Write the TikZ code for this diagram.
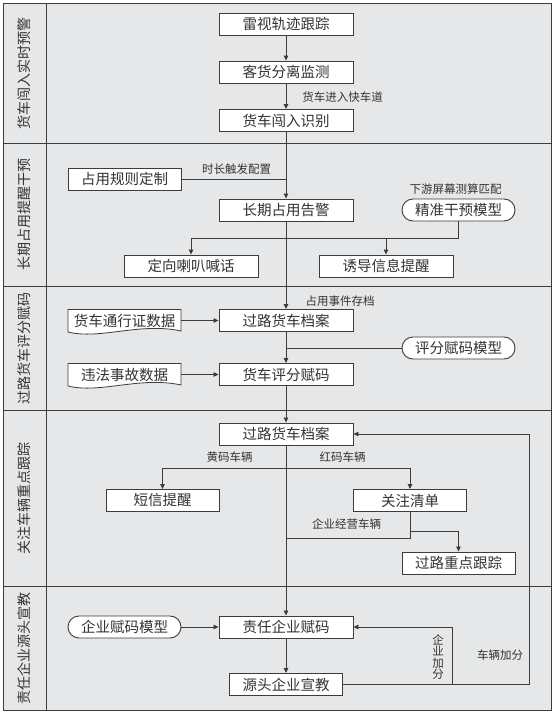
\documentclass[tikz,border=0pt]{standalone}
\usepackage{fontspec}
\newfontfamily\cjk{Noto Sans CJK SC}
\usetikzlibrary{arrows.meta,calc}

\definecolor{lanegray}{HTML}{E6E7E8}
\definecolor{linegray}{HTML}{3C3C3C}
\definecolor{textgray}{HTML}{333333}

% wavy data sheet, drawn round a centre (113 x 22)
\newcommand{\docshape}[1]{%
	\draw[line, fill=white] ($(#1)+(-56.5,-11)$) -- ($(#1)+(56.5,-11)$) -- ($(#1)+(56.5,10.5)$)
		.. controls ($(#1)+(15.5,1.5)$) and ($(#1)+(-24.5,19.5)$) .. ($(#1)+(-56.5,11.5)$) -- cycle;}

\begin{document}
\begin{tikzpicture}[x=1pt, y=-1pt,
	line/.style={draw=linegray, line width=0.8pt},
	arr/.style={-{Triangle[length=5pt,width=4.5pt]}},
	box/.style={draw=linegray, fill=white, line width=0.9pt, minimum width=134pt,
		minimum height=22pt, inner sep=0pt, text=textgray, font=\cjk\fontsize{14.5}{14.5}\selectfont},
	sbox/.style={box, minimum width=113pt},
	model/.style={sbox, rounded corners=11pt},
	doc/.style={sbox, draw=none, fill=none},
	lbl/.style={inner sep=0pt, text=textgray, font=\cjk\fontsize{11.5}{11.5}\selectfont},
	lanetitle/.style={inner sep=0pt, rotate=90, text=textgray, font=\cjk\fontsize{14}{14}\selectfont},
]

% frame %{{{1

	\useasboundingbox (0,0) rectangle (553,712);

	\fill[lanegray] (3,3) rectangle (551,710);
	\draw[line, line width=1pt] (3,3) rectangle (551,710);
	\draw[line, line width=1pt] (46,3) -- (46,710);
	\foreach \y in {143,286,410,586}
		\draw[line, line width=1pt] (3,\y) -- (551,\y);

% lane titles %{{{1

	\node[lanetitle] (lane1) at (24.5,73) {货车闯入实时预警};
	\node[lanetitle] (lane2) at (24.5,214.5) {长期占用提醒干预};
	\node[lanetitle] (lane3) at (24.5,348) {过路货车评分赋码};
	\node[lanetitle] (lane4) at (24.5,498) {关注车辆重点跟踪};
	\node[lanetitle] (lane5) at (24.5,648) {责任企业源头宣教};

% coordinates %{{{1

	\coordinate (permitpos) at (124.5,320.5);
	\coordinate (illegalpos) at (124.5,374.5);

	\coordinate (alarmsplit) at (286,238);
	\coordinate (codesplit) at (286,468);
	\coordinate (entjoin) at (286,538);
	\coordinate (trackbend) at (410,531);
	\coordinate (vehback) at (529,684.5);
	\coordinate (entback) at (452,684.5);

% boxes %{{{1

	\node[box] (radar) at (286,24) {雷视轨迹跟踪};
	\node[box] (sep) at (286,72) {客货分离监测};
	\node[box] (intrude) at (286,120.5) {货车闯入识别};

	\node[sbox] (rule) at (124.5,179) {占用规则定制};
	\node[box] (alarm) at (286,210) {长期占用告警};
	\node[model] (precise) at (458.5,210) {精准干预模型};
	\node[box] (horn) at (191,266) {定向喇叭喊话};
	\node[box] (guide) at (386,266) {诱导信息提醒};

	\docshape{permitpos}
	\docshape{illegalpos}
	\node[doc] (permit) at (permitpos) {货车通行证数据};
	\node[doc] (illegal) at (illegalpos) {违法事故数据};
	\node[box] (archive) at (286,320.5) {过路货车档案};
	\node[model] (scoremodel) at (458.5,348) {评分赋码模型};
	\node[box] (score) at (286,374.5) {货车评分赋码};

	\node[box] (archive2) at (286,434) {过路货车档案};
	\node[sbox] (sms) at (162.5,500.5) {短信提醒};
	\node[sbox] (watch) at (410,500.5) {关注清单};
	\node[sbox] (track) at (458.5,563) {过路重点跟踪};

	\node[model] (entmodel) at (124.5,627) {企业赋码模型};
	\node[box] (duty) at (286,627) {责任企业赋码};
	\node[sbox] (edu) at (286,684.5) {源头企业宣教};

% connectors %{{{1

	\draw[line, arr] (radar) -- (sep);
	\draw[line, arr] (sep) -- (intrude);
	\draw[line, arr] (intrude) -- (alarm);
	\draw[line] (rule) -- (rule -| alarm);

	\draw[line, arr] (alarm) -- (archive);
	\draw[line] (horn |- alarmsplit) -- (precise |- alarmsplit);
	\draw[line] (precise) -- (precise |- alarmsplit);
	\draw[line, arr] (horn |- alarmsplit) -- (horn);
	\draw[line, arr] (guide |- alarmsplit) -- (guide);

	\draw[line, arr] (permit) -- (archive);
	\draw[line, arr] (archive) -- (score);
	\draw[line] (scoremodel) -- (scoremodel -| archive);
	\draw[line, arr] (illegal) -- (score);

	\draw[line, arr] (score) -- (archive2);
	\draw[line, arr] (archive2) -- (duty);
	\draw[line] (sms |- codesplit) -- (watch |- codesplit);
	\draw[line, arr] (sms |- codesplit) -- (sms);
	\draw[line, arr] (watch |- codesplit) -- (watch);
	\draw[line] (watch) -- (watch |- entjoin) -- (entjoin);
	\draw[line, arr] (trackbend) -| (track);

	\draw[line, arr] (entmodel) -- (duty);
	\draw[line, arr] (duty) -- (edu);
	\draw[line, arr] (edu) -- (vehback) |- (archive2);
	\draw[line, arr] (entback) |- (duty);

% connector labels %{{{1

	\node[lbl] (lfast) at (342.5,97) {货车进入快车道};
	\node[lbl] (ltime) at (236.5,169) {时长触发配置};
	\node[lbl] (ldown) at (455.5,189) {下游屏幕测算匹配};
	\node[lbl] (lstore) at (340,301) {占用事件存档};
	\node[lbl] (lyellow) at (229.5,457) {黄码车辆};
	\node[lbl] (lred) at (342.5,457) {红码车辆};
	\node[lbl] (lent) at (346.5,524) {企业经营车辆};
	\node[lbl, align=center] (lentplus) at (438,657) {企\\业\\加\\分};
	\node[lbl] (lvehplus) at (500,655) {车辆加分};

% closing %{{{1

\end{tikzpicture}
\end{document}
